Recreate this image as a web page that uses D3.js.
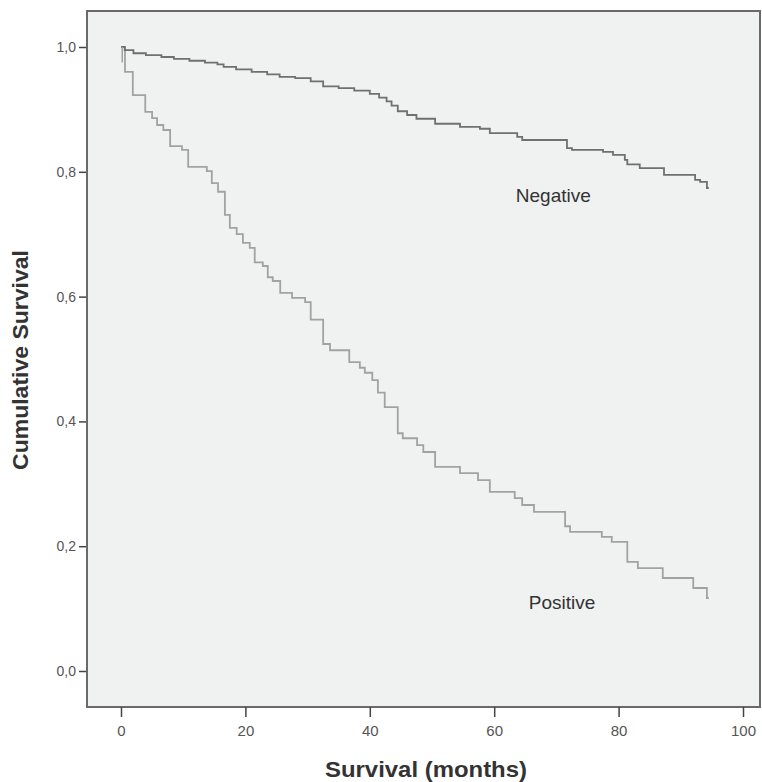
<!DOCTYPE html>
<html><head><meta charset="utf-8">
<script src="https://cdn.jsdelivr.net/npm/d3@7"></script>
<style>
html,body{margin:0;padding:0;background:#fff;}
svg{display:block;}
</style></head>
<body>
<svg id="chart" width="762" height="782"></svg>
<script>
// ---- data ----
const negTimes = [0, 0.6, 2.0, 4.0, 6.5, 8.5, 11, 13.5, 15.5, 16.5, 18.5, 21, 23.5, 25.5, 28, 30.5, 32.5, 35, 37.5, 40, 41.5, 42.7, 43.5, 44.5, 46, 47.5, 50.5, 54.5, 57.7, 59.3, 63.7, 64.5, 71.7, 72.5, 77.5, 79.1, 81.0, 81.4, 83.4, 87.3, 92.3, 93.1, 94.2];
const negSurv  = [1.0, 0.995, 0.990, 0.987, 0.984, 0.981, 0.978, 0.975, 0.972, 0.968, 0.964, 0.960, 0.956, 0.952, 0.950, 0.945, 0.937, 0.934, 0.930, 0.925, 0.919, 0.913, 0.906, 0.897, 0.891, 0.885, 0.877, 0.872, 0.869, 0.862, 0.856, 0.851, 0.838, 0.835, 0.832, 0.827, 0.819, 0.812, 0.806, 0.795, 0.787, 0.784, 0.774];
const posTimes = [0, 0.64, 1.9, 3.9, 5.0, 5.8, 6.8, 7.9, 9.8, 10.8, 13.8, 14.6, 15.6, 16.7, 17.5, 18.6, 19.6, 20.7, 21.5, 22.8, 23.6, 24.4, 25.6, 27.5, 29.6, 30.5, 32.5, 33.6, 36.7, 38.4, 39.2, 40.4, 41.3, 42.4, 44.5, 45.3, 47.6, 48.6, 50.5, 54.5, 57.4, 59.3, 63.3, 64.5, 66.4, 71.4, 72.2, 77.3, 78.9, 81.4, 83.1, 87.1, 92.0, 94.2];
const posSurv  = [1.0, 0.960, 0.923, 0.896, 0.886, 0.875, 0.867, 0.841, 0.835, 0.808, 0.801, 0.782, 0.768, 0.731, 0.710, 0.700, 0.686, 0.678, 0.655, 0.649, 0.631, 0.625, 0.606, 0.598, 0.591, 0.563, 0.524, 0.514, 0.495, 0.486, 0.478, 0.466, 0.446, 0.423, 0.381, 0.373, 0.362, 0.351, 0.327, 0.317, 0.306, 0.287, 0.277, 0.266, 0.255, 0.232, 0.223, 0.215, 0.207, 0.175, 0.165, 0.149, 0.133, 0.117];
const endTime = 94.5;
const censorTimes = [0.2];
const censorDepth = 0.025;
const xTicks = [0, 20, 40, 60, 80, 100];
const yTicks = [0, 0.2, 0.4, 0.6, 0.8, 1.0];
const groupLabels = ["Negative", "Positive"];
const labelPos = [[69.5, 0.760], [70.9, 0.107]];

// ---- layout ----
const svg = d3.select("#chart");
const font = "Liberation Sans, Arial, sans-serif";
const frame = {left: 87, top: 11, right: 760, bottom: 707};
const x = d3.scaleLinear().domain([0, 100]).range([121, 743]);
const y = d3.scaleLinear().domain([0, 1]).range([671, 47]);

svg.append("rect")
  .attr("x", frame.left).attr("y", frame.top)
  .attr("width", frame.right - frame.left).attr("height", frame.bottom - frame.top)
  .attr("fill", "#f0f1f1").attr("stroke", "#6a6a6a").attr("stroke-width", 2);

const fmt = v => d3.format(".1f")(v).replace(".", ",");

const yAxis = svg.append("g").attr("transform", `translate(${frame.left - 1},0)`)
  .call(d3.axisLeft(y).tickValues(yTicks).tickFormat(fmt).tickSize(7).tickPadding(3));
yAxis.select(".domain").remove();
yAxis.selectAll("line").attr("stroke", "#444").attr("stroke-width", 1.5);
yAxis.selectAll("text").attr("font-family", font).attr("font-size", 14).attr("fill", "#555");

const xAxis = svg.append("g").attr("transform", `translate(0,${frame.bottom})`)
  .call(d3.axisBottom(x).tickValues(xTicks).tickFormat(d3.format("d")).tickSize(10).tickPadding(8));
xAxis.select(".domain").remove();
xAxis.selectAll("line").attr("stroke", "#444").attr("stroke-width", 1.5);
xAxis.selectAll("text").attr("font-family", font).attr("font-size", 15).attr("fill", "#555");

// titles
svg.append("text").attr("x", 426).attr("y", 777).attr("text-anchor", "middle")
  .attr("font-family", font).attr("font-weight", "bold")
  .attr("font-size", 22).attr("textLength", 202).attr("lengthAdjust", "spacingAndGlyphs")
  .attr("fill", "#333").text("Survival (months)");
svg.append("text").attr("transform", "translate(28,360) rotate(-90)").attr("text-anchor", "middle")
  .attr("font-family", font).attr("font-weight", "bold")
  .attr("font-size", 22).attr("textLength", 220).attr("lengthAdjust", "spacingAndGlyphs")
  .attr("fill", "#333").text("Cumulative Survival");

// curves
const line = d3.line().x(d => x(d[0])).y(d => y(d[1])).curve(d3.curveStepAfter);
function pts(ts, ss) {
  const p = ts.map((t, i) => [t, ss[i]]);
  p.push([endTime, ss[ss.length - 1]]);
  return p;
}
svg.append("path").datum(pts(posTimes, posSurv)).attr("d", line)
  .attr("fill", "none").attr("stroke", "#a2a2a2").attr("stroke-width", 1.8);
svg.append("path").datum(pts(negTimes, negSurv)).attr("d", line)
  .attr("fill", "none").attr("stroke", "#707070").attr("stroke-width", 1.8);

svg.selectAll(".censor").data(censorTimes).enter().append("line")
  .attr("x1", d => x(d)).attr("x2", d => x(d))
  .attr("y1", y(1)).attr("y2", y(1 - censorDepth))
  .attr("stroke", "#a2a2a2").attr("stroke-width", 1.5);

// labels
svg.selectAll(".glabel").data(groupLabels).enter().append("text")
  .attr("x", (d, i) => x(labelPos[i][0])).attr("y", (d, i) => y(labelPos[i][1]))
  .attr("text-anchor", "middle").attr("dominant-baseline", "middle")
  .attr("font-family", font).attr("font-size", 19)
  .attr("fill", "#333").text(d => d);
</script>
</body></html>
